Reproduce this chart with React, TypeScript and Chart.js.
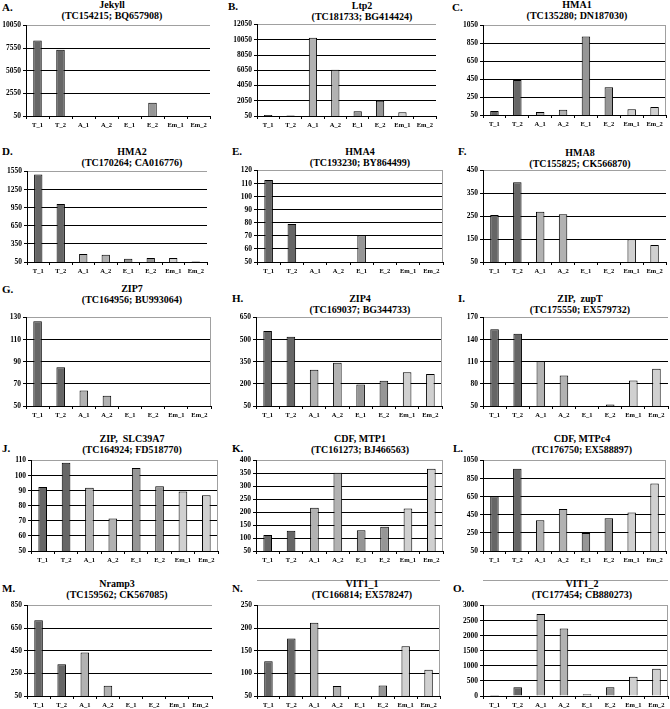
import React, { useEffect, useRef } from "react";
import { Chart, registerables } from "chart.js";

Chart.register(...registerables);

// ---------- data ----------
const categories = ["T_1", "T_2", "A_1", "A_2", "E_1", "E_2", "Em_1", "Em_2"];

const jekyllValues = [8400, 7370, null, null, null, 1520, null, null];
const jekyllTicks = [50, 2550, 5050, 7550, 10050];

const ltp2Values = [180, 110, 10300, 6120, 660, 2060, 530, null];
const ltp2Ticks = [50, 2050, 4050, 6050, 8050, 10050, 12050];

const hma1Values = [94, 441, 83, 109, 928, 360, 113, 139];
const hma1Ticks = [50, 250, 450, 650, 850, 1050];

const hma2Values = [1500, 1010, 182, 171, 105, 116, 116, 60];
const hma2Ticks = [50, 350, 650, 950, 1250, 1550];

const hma4Values = [112.8, 79, null, null, 70.5, null, null, null];
const hma4Ticks = [50, 60, 70, 80, 90, 100, 110, 120];

const hma8Values = [256, 399, 270, 259, null, null, 150, 124];
const hma8Ticks = [50, 150, 250, 350, 450];

const zip7Values = [126.5, 85, 64, 59.3, null, null, null, null];
const zip7Ticks = [50, 70, 90, 110, 130];

const zip4Values = [558, 520, 296, 343, 196, 222, 278, 267];
const zip4Ticks = [50, 200, 350, 500, 650];

const zupTValues = [154, 148, 111, 91.5, null, 52, 84.5, 100.5];
const zupTTicks = [50, 80, 110, 140, 170];

const slc39a7Values = [92.5, 108.5, 92, 71.5, 105, 93, 89.5, 87];
const slc39a7Ticks = [50, 60, 70, 80, 90, 100, 110];

const mtp1Values = [112, 128, 217, 353, 130, 144, 214, 368];
const mtp1Ticks = [50, 100, 150, 200, 250, 300, 350, 400];

const mtpc4Values = [654, 958, 390, 515, 248, 413, 475, 795];
const mtpc4Ticks = [50, 250, 450, 650, 850, 1050];

const nramp3Values = [720, 330, 435, 140, null, null, null, null];
const nramp3Ticks = [50, 250, 450, 650, 850];

const vit11Values = [127, 177, 212, 72, null, 73, 160, 108];
const vit11Ticks = [50, 100, 150, 200, 250];

const vit12Values = [30, 290, 2720, 2240, 60, 290, 640, 900];
const vit12Ticks = [0, 500, 1000, 1500, 2000, 2500, 3000];

// ---------- styling ----------
const barColors = ["#666666", "#666666", "#b2b2b2", "#b2b2b2", "#969696", "#969696", "#d0d0d0", "#d0d0d0"];
const SERIF = "'Liberation Serif', 'Times New Roman', serif";

type PanelCfg = {
  letter: string;
  title: string;
  sub: string;
  values: (number | null)[];
  ticks: number[];
  plot: [number, number, number, number]; // axisX, top, right, bottom
  titleX: number;
  titleY: number;
  letterX: number;
  letterY: number;
  rightBorder: boolean;
  topLine?: number;
};

const panels: PanelCfg[] = [
  { letter: "A.", title: "Jekyll", sub: "(TC154215; BQ657908)", values: jekyllValues, ticks: jekyllTicks, plot: [26, 25, 210, 116], titleX: 112, titleY: 4.5, letterX: 2, letterY: 7.5, rightBorder: false },
  { letter: "B.", title: "Ltp2", sub: "(TC181733; BG414424)", values: ltp2Values, ticks: ltp2Ticks, plot: [257, 24, 436, 116], titleX: 362, titleY: 5, letterX: 228, letterY: 6.5, rightBorder: false },
  { letter: "C.", title: "HMA1", sub: "(TC135280; DN187030)", values: hma1Values, ticks: hma1Ticks, plot: [483, 25, 666, 115], titleX: 577, titleY: 4.5, letterX: 452, letterY: 7.5, rightBorder: true },
  { letter: "D.", title: "HMA2", sub: "(TC170264; CA016776)", values: hma2Values, ticks: hma2Ticks, plot: [27, 171, 207, 262], titleX: 132, titleY: 151, letterX: 2, letterY: 151, rightBorder: false },
  { letter: "E.", title: "HMA4", sub: "(TC193230; BY864499)", values: hma4Values, ticks: hma4Ticks, plot: [257, 170, 443, 262], titleX: 360, titleY: 151, letterX: 232, letterY: 151, rightBorder: true },
  { letter: "F.", title: "HMA8", sub: "(TC155825; CK566870)", values: hma8Values, ticks: hma8Ticks, plot: [483, 170, 666, 262], titleX: 580, titleY: 152, letterX: 458, letterY: 151.5, rightBorder: false },
  { letter: "G.", title: "ZIP7", sub: "(TC164956; BU993064)", values: zip7Values, ticks: zip7Ticks, plot: [26, 317, 211, 406], titleX: 132, titleY: 288.5, letterX: 2, letterY: 289, rightBorder: true },
  { letter: "H.", title: "ZIP4", sub: "(TC169037; BG344733)", values: zip4Values, ticks: zip4Ticks, plot: [256, 317, 442, 406], titleX: 360, titleY: 298, letterX: 232, letterY: 298, rightBorder: true },
  { letter: "I.", title: "ZIP,  zupT", sub: "(TC175550; EX579732)", values: zupTValues, ticks: zupTTicks, plot: [483, 317, 668, 406], titleX: 580, titleY: 298, letterX: 458, letterY: 298, rightBorder: false },
  { letter: "J.", title: "ZIP,  SLC39A7", sub: "(TC164924; FD518770)", values: slc39a7Values, ticks: slc39a7Ticks, plot: [31, 460, 218, 551], titleX: 132, titleY: 438.5, letterX: 2, letterY: 448.5, rightBorder: true },
  { letter: "K.", title: "CDF, MTP1", sub: "(TC161273; BJ466563)", values: mtp1Values, ticks: mtp1Ticks, plot: [256, 460, 443, 551], titleX: 360, titleY: 438.5, letterX: 232, letterY: 448.5, rightBorder: true },
  { letter: "L.", title: "CDF, MTPc4", sub: "(TC176750; EX588897)", values: mtpc4Values, ticks: mtpc4Ticks, plot: [483, 460, 666, 551], titleX: 582, titleY: 438.5, letterX: 453, letterY: 448.5, rightBorder: true },
  { letter: "M.", title: "Nramp3", sub: "(TC159562; CK567085)", values: nramp3Values, ticks: nramp3Ticks, plot: [27, 605, 212, 696], titleX: 117, titleY: 583, letterX: 2, letterY: 588, rightBorder: false },
  { letter: "N.", title: "VIT1_1", sub: "(TC166814; EX578247)", values: vit11Values, ticks: vit11Ticks, plot: [257, 605, 440, 696], titleX: 362, titleY: 583, letterX: 232, letterY: 588, rightBorder: true, topLine: 580 },
  { letter: "O.", title: "VIT1_2", sub: "(TC177454; CB880273)", values: vit12Values, ticks: vit12Ticks, plot: [483, 605, 668, 696], titleX: 582, titleY: 583, letterX: 453, letterY: 588, rightBorder: true, topLine: 580 },
];

const YW = 30;
const PT = 6;
const PR = 3;
const XH = 16;

const borderPlugin = {
  id: "rightBorder",
  afterDraw(chart: any, _args: any, opts: any) {
    if (!opts || !opts.show) return;
    const { ctx, chartArea } = chart;
    ctx.save();
    ctx.strokeStyle = "#a0a0a0";
    ctx.lineWidth = 1;
    ctx.beginPath();
    const x = Math.round(chartArea.right) - 0.5;
    ctx.moveTo(x, chartArea.top);
    ctx.lineTo(x, chartArea.bottom);
    ctx.stroke();
    ctx.restore();
  },
};

function Panel({ cfg }: { cfg: PanelCfg }) {
  const ref = useRef<HTMLCanvasElement>(null);
  const [ax, top, right, bottom] = cfg.plot;
  const width = right - ax + YW + PR;
  const height = bottom - top + PT + XH;

  useEffect(() => {
    if (!ref.current) return;
    const tickVals = cfg.ticks;
    const yMin = tickVals[0];
    const yMax = tickVals[tickVals.length - 1];
    const chart = new Chart(ref.current, {
      type: "bar",
      data: {
        labels: categories,
        datasets: [
          {
            data: cfg.values as any,
            backgroundColor: barColors,
            borderColor: "#000000",
            borderWidth: 1,
            barPercentage: 0.37,
            categoryPercentage: 1,
          },
        ],
      },
      options: {
        animation: false,
        responsive: false,
        devicePixelRatio: 1,
        layout: { padding: { top: PT, right: PR, left: 0, bottom: 0 } },
        plugins: {
          legend: { display: false },
          tooltip: { enabled: false },
          title: { display: false },
          rightBorder: { show: cfg.rightBorder },
        } as any,
        scales: {
          x: {
            type: "category",
            afterFit: (s: any) => {
              s.height = XH;
            },
            grid: {
              display: true,
              drawOnChartArea: false,
              offset: true,
              tickLength: 3,
              color: "#000000",
              lineWidth: 1,
            },
            border: { display: true, color: "#000000", width: 1 },
            ticks: {
              color: "#000000",
              font: { family: SERIF, size: 6.5, weight: "bold" },
              padding: 2,
              maxRotation: 0,
              autoSkip: false,
            },
          },
          y: {
            type: "linear",
            min: yMin,
            max: yMax,
            afterFit: (s: any) => {
              s.width = YW;
            },
            afterBuildTicks: (s: any) => {
              s.ticks = tickVals.map((v) => ({ value: v }));
            },
            grid: {
              display: true,
              drawOnChartArea: true,
              tickLength: 3,
              color: (c: any) => (c.tick && c.tick.value === yMax ? "#a0a0a0" : "#000000"),
              tickColor: "#000000",
              lineWidth: 1,
            },
            border: { display: true, color: "#000000", width: 1 },
            ticks: {
              color: "#000000",
              font: { family: SERIF, size: 7.5, weight: "bold" },
              padding: 2,
              callback: (v: any) => String(v),
            },
          },
        },
      } as any,
      plugins: [borderPlugin],
    });
    return () => chart.destroy();
  }, [cfg]);

  return (
    <>
      <div
        style={{
          position: "absolute",
          left: cfg.letterX,
          top: cfg.letterY - 5.5,
          font: `bold 11px ${SERIF}`,
          lineHeight: "11px",
          color: "#000",
          whiteSpace: "nowrap",
        }}
      >
        {cfg.letter}
      </div>
      {cfg.topLine !== undefined && (
        <div
          style={{
            position: "absolute",
            left: ax,
            top: cfg.topLine,
            width: right - ax,
            height: 0,
            borderTop: "1px solid #a0a0a0",
          }}
        />
      )}
      <div
        style={{
          position: "absolute",
          left: cfg.titleX - 100,
          width: 200,
          top: cfg.titleY - 5.5,
          textAlign: "center",
          font: `bold 10px ${SERIF}`,
          lineHeight: "11px",
          color: "#000",
          whiteSpace: "pre",
        }}
      >
        <div>{cfg.title}</div>
        <div>{cfg.sub}</div>
      </div>
      <canvas
        ref={ref}
        width={width}
        height={height}
        style={{ position: "absolute", left: ax - YW, top: top - PT, width, height }}
      />
    </>
  );
}

export default function App() {
  return (
    <div
      style={{
        position: "fixed",
        left: 0,
        top: 0,
        width: 670,
        height: 709,
        background: "#ffffff",
        overflow: "hidden",
      }}
    >
      {panels.map((p) => (
        <Panel key={p.letter} cfg={p} />
      ))}
    </div>
  );
}
